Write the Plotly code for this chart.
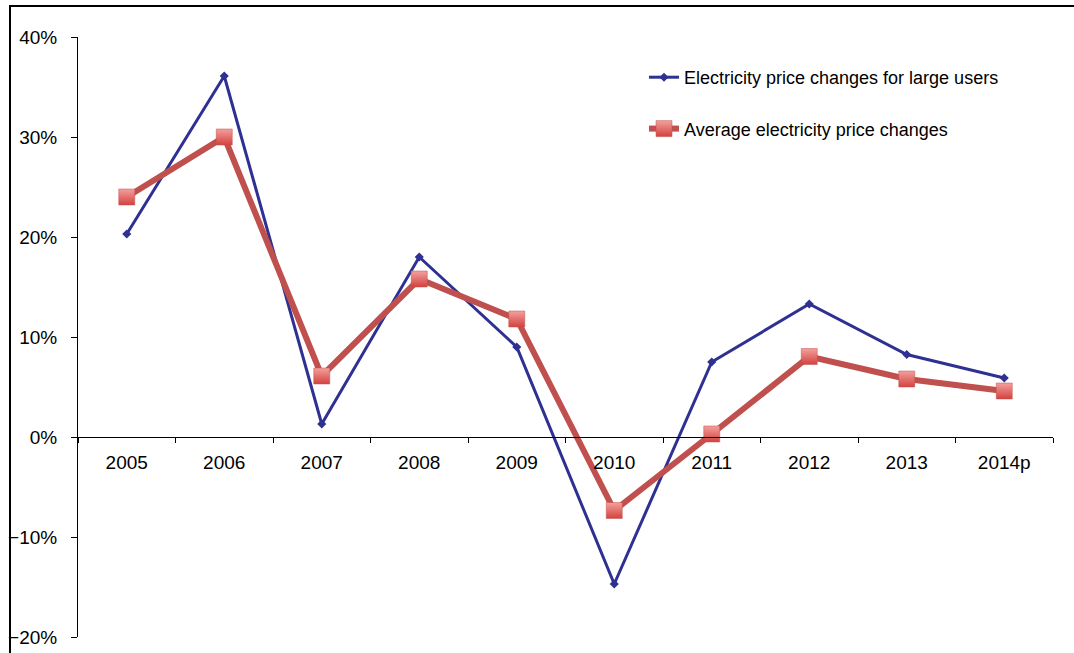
import plotly.graph_objects as go

years = ["2005", "2006", "2007", "2008", "2009", "2010", "2011", "2012", "2013", "2014p"]
large_users = [20.3, 36.1, 1.3, 18.0, 9.0, -14.7, 7.5, 13.3, 8.25, 5.9]
average = [24.0, 30.0, 6.1, 15.8, 11.8, -7.35, 0.3, 8.05, 5.8, 4.6]

W, H = 1074, 653
ML, MR, MT, MB = 78, 21, 37, 16
PW, PH = W - ML - MR, H - MT - MB

def px2x(px):
    return (px - ML) / PW

def py2y(py):
    return (H - MB - py) / PH

FONT = "Arial, Liberation Sans, sans-serif"

fig = go.Figure()
fig.add_trace(go.Scatter(
    x=years, y=large_users, mode="lines+markers",
    name="Electricity price changes for large users",
    line=dict(color="#2E3192", width=3),
    marker=dict(symbol="diamond", size=7, color="#2E3192"),
    legendgroup="a",
))
fig.add_trace(go.Scatter(
    x=years, y=average, mode="lines+markers",
    name="Average electricity price changes",
    line=dict(color="#C0504D", width=6),
    marker=dict(symbol="square", size=16, color="#F4A09C",
                gradient=dict(type="vertical", color="#D2423F"),
                line=dict(color="#C0504D", width=0.5)),
    legendgroup="b",
))

fig.update_layout(
    width=W, height=H,
    margin=dict(l=ML, r=MR, t=MT, b=MB, pad=0, autoexpand=False),
    paper_bgcolor="white", plot_bgcolor="white",
    font=dict(family=FONT, size=19, color="black"),
    showlegend=True,
    legend=dict(
        x=px2x(644), y=py2y(59), xanchor="left", yanchor="top",
        font=dict(family=FONT, size=18, color="black"),
        bgcolor="rgba(0,0,0,0)", borderwidth=0,
        traceorder="grouped", tracegroupgap=25,
    ),
    xaxis=dict(
        type="category", range=[-0.5, 9.5],
        anchor="free", position=1/3, automargin=False,
        showline=True, linecolor="black", linewidth=1,
        ticks="outside", tickson="boundaries", ticklen=5, tickcolor="black",
        showgrid=False, zeroline=False,
        tickfont=dict(family=FONT, size=19, color="black"),
        ticklabelstandoff=8,
    ),
    yaxis=dict(
        range=[-20, 40], dtick=10, ticksuffix="%", automargin=False,
        showline=True, linecolor="black", linewidth=1,
        ticks="outside", ticklen=6, tickcolor="black",
        showgrid=False, zeroline=False,
        tickfont=dict(family=FONT, size=19, color="black"),
        ticklabelstandoff=10,
    ),
    shapes=[
        dict(type="line", xref="paper", yref="paper",
             x0=px2x(10), x1=px2x(10), y0=py2y(6), y1=py2y(H + 5),
             line=dict(color="black", width=2)),
        dict(type="line", xref="paper", yref="paper",
             x0=px2x(9), x1=px2x(W + 5), y0=py2y(6), y1=py2y(6),
             line=dict(color="black", width=2)),
    ],
)

fig.write_html("out.html")
